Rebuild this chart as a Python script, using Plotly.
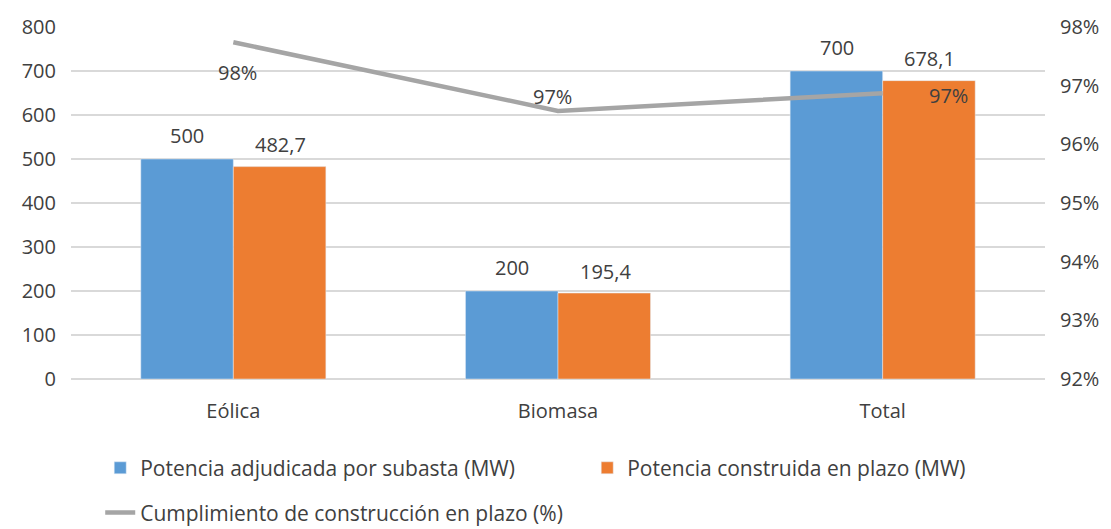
import plotly.graph_objects as go

categories = ["Eólica", "Biomasa", "Total"]
adjudicada = [500, 200, 700]
construida = [482.7, 195.4, 678.1]
cumplimiento = [0.9774, 0.9657, 0.9687]

def fmt(v):
    s = ("%g" % v)
    return s.replace(".", ",")

FONT = "Open Sans"
TXT = "#404040"
FS = 20

fig = go.Figure()
fig.add_trace(go.Bar(
    x=categories, y=adjudicada, name="Potencia adjudicada por subasta (MW)",
    marker_color="#5B9BD5", legend="legend"))
fig.add_trace(go.Bar(
    x=categories, y=construida, name="Potencia construida en plazo (MW)",
    marker_color="#ED7D31", legend="legend3"))
fig.add_trace(go.Scatter(
    x=categories, y=cumplimiento, name="Cumplimiento de construcción en plazo (%)",
    mode="lines", line=dict(color="#A5A5A5", width=4.5), yaxis="y2",
    legend="legend2", cliponaxis=False))

# bar value labels
for c, a, b in zip(categories, adjudicada, construida):
    fig.add_annotation(x=c, y=a, xref="x", yref="y", text=fmt(a), showarrow=False,
                       xshift=-46, yshift=24, font=dict(size=FS, color=TXT, family=FONT))
    fig.add_annotation(x=c, y=b, xref="x", yref="y", text=fmt(b), showarrow=False,
                       xshift=47, yshift=22, font=dict(size=FS, color=TXT, family=FONT))

# line value labels
shifts = [(4, -30), (-6, 14), (66, -2)]
for c, v, (dx, dy) in zip(categories, cumplimiento, shifts):
    fig.add_annotation(x=c, y=v, yref="y2", xref="x", text="%d%%" % round(v * 100),
                       showarrow=False, xshift=dx, yshift=dy,
                       font=dict(size=FS, color=TXT, family=FONT))

legfont = dict(size=21, color=TXT, family=FONT)
fig.update_layout(
    width=1111, height=529,
    margin=dict(l=63, r=74, t=19, b=158, autoexpand=False),
    paper_bgcolor="white", plot_bgcolor="white",
    font=dict(family=FONT, size=FS, color=TXT),
    barmode="group", bargap=0.43, bargroupgap=0,
    showlegend=True,
    xaxis=dict(showgrid=False, showline=False, ticks="", automargin=False,
               tickfont=dict(size=FS, color=TXT), ticklabelstandoff=18),
    yaxis=dict(range=[0, 800], dtick=100, showgrid=True, gridcolor="#D9D9D9", gridwidth=2,
               zeroline=True, zerolinecolor="#D9D9D9", zerolinewidth=2, automargin=False,
               tickfont=dict(size=FS, color=TXT), ticklabelstandoff=14),
    yaxis2=dict(range=[0.92, 0.98], dtick=0.01, tickformat=".0%", overlaying="y", side="right",
                showgrid=False, zeroline=False, automargin=False,
                tickfont=dict(size=FS, color=TXT), ticklabelstandoff=14),
    legend=dict(orientation="h", x=0.03, xanchor="left", y=-0.195, yanchor="top",
                font=legfont, bgcolor="rgba(0,0,0,0)"),
    legend3=dict(orientation="h", x=0.53, xanchor="left", y=-0.195, yanchor="top",
                 font=legfont, bgcolor="rgba(0,0,0,0)"),
    legend2=dict(orientation="h", x=0.03, xanchor="left", y=-0.322, yanchor="top",
                 font=legfont, bgcolor="rgba(0,0,0,0)"),
)

fig.write_html("out.html")
